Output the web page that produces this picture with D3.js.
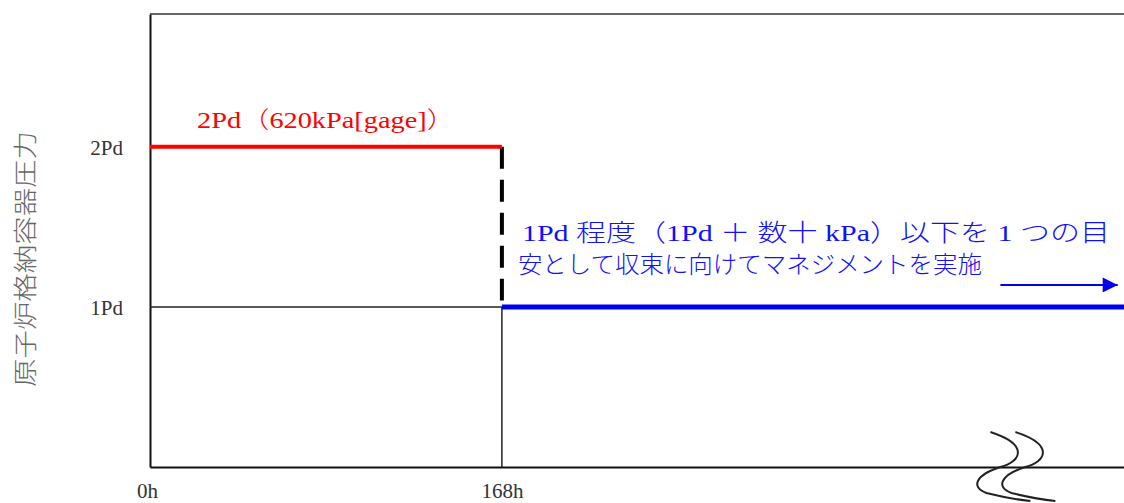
<!DOCTYPE html>
<html>
<head>
<meta charset="utf-8">
<script src="https://cdn.jsdelivr.net/npm/d3@7"></script>
<style>
  body { margin: 0; background: #fff; }
  svg { display: block; }
</style>
</head>
<body>
<div id="container"></div>
<script>
/* Données du graphe */
const xTickValues = [0, 168];
const xTickLabels = ["0h", "168h"];
const yTickValues = [1, 2];
const yTickLabels = ["1Pd", "2Pd"];

/* Phase 1 : 2Pd jusqu'à 168h, phase 2 : 1Pd ensuite */
const phase1 = [{t: 0, p: 2}, {t: 168, p: 2}];
const phase2 = [{t: 168, p: 1}, {t: 465, p: 1}];
const refLine = [{t: 0, p: 1}, {t: 168, p: 1}];
const dropLine = [{t: 168, p: 2}, {t: 168, p: 1.04}];
const stemLine = [{t: 168, p: 1}, {t: 168, p: 0}];

const yTitle = "原子炉格納容器圧力";
const redLabel = "2Pd（620kPa[gage]）";
const blueLines = ["1Pd 程度（1Pd ＋ 数十 kPa）以下を 1 つの目", "安として収束に向けてマネジメントを実施"];
const breakAt = 406;

const W = 1124, H = 503;
const serif = "'Liberation Serif', 'DejaVu Serif', 'Noto Sans CJK JP', serif";

const svg = d3.select("#container").append("svg")
  .attr("width", W)
  .attr("height", H);

const x = d3.scaleLinear().domain([0, 465]).range([150, 1124]);
const y = d3.scaleLinear().domain([0, 2.83]).range([467, 14]);

const line = d3.line().x(d => x(d.t)).y(d => y(d.p));

/* Cadre : haut gris, gauche et bas noirs */
svg.append("line")
  .attr("x1", x(0)).attr("x2", x(465))
  .attr("y1", y(2.83)).attr("y2", y(2.83))
  .style("stroke", "#666").style("stroke-width", 2);

svg.append("g")
  .attr("transform", "translate(" + x(0) + ",0)")
  .call(d3.axisLeft(y).tickValues(yTickValues).tickSize(0).tickFormat((d, i) => yTickLabels[i]))
  .call(g => g.select(".domain").style("stroke", "#111").style("stroke-width", 2))
  .call(g => g.selectAll("text")
    .attr("x", -27)
    .attr("dy", "0.35em")
    .style("font-family", serif)
    .style("font-size", "21px")
    .style("fill", "#333"));

svg.append("g")
  .attr("transform", "translate(0," + y(0) + ")")
  .call(d3.axisBottom(x).tickValues(xTickValues).tickSize(0).tickFormat((d, i) => xTickLabels[i]))
  .call(g => g.select(".domain").style("stroke", "#111").style("stroke-width", 2))
  .call(g => g.selectAll("text")
    .attr("y", 16)
    .attr("dx", (d, i) => i === 0 ? -3 : 0)
    .style("font-family", serif)
    .style("font-size", "21px")
    .style("fill", "#333"));

/* Titre de l'axe vertical */
svg.append("text")
  .attr("transform", "translate(34,259) rotate(-90)")
  .attr("text-anchor", "middle")
  .attr("textLength", 256)
  .attr("lengthAdjust", "spacingAndGlyphs")
  .style("font-family", "'Noto Sans CJK JP', sans-serif")
  .style("font-size", "24px")
  .style("font-weight", "300")
  .style("fill", "#666")
  .text(yTitle);

/* Lignes */
svg.append("path").datum(refLine).attr("d", line)
  .style("fill", "none").style("stroke", "#222").style("stroke-width", 1.5);
svg.append("path").datum(stemLine).attr("d", line)
  .style("fill", "none").style("stroke", "#222").style("stroke-width", 1.5);
svg.append("path").datum(dropLine).attr("d", line)
  .style("fill", "none").style("stroke", "#000").style("stroke-width", 4)
  .style("stroke-dasharray", "22,11");
svg.append("path").datum(phase1).attr("d", line)
  .style("fill", "none").style("stroke", "#f00").style("stroke-width", 4);
svg.append("path").datum(phase2).attr("d", line)
  .style("fill", "none").style("stroke", "#0000ee").style("stroke-width", 5);

/* Etiquettes */
svg.append("text")
  .attr("x", x(0) + 47)
  .attr("y", y(2) - 19)
  .attr("textLength", 258)
  .attr("lengthAdjust", "spacingAndGlyphs")
  .style("font-family", serif)
  .style("font-size", "23px")
  .style("font-weight", "300")
  .style("fill", "#f00")
  .text(redLabel);

const blueText = svg.append("text")
  .style("font-family", serif)
  .style("font-size", "24px")
  .style("font-weight", "300")
  .style("fill", "#1010ff");
blueText.append("tspan")
  .attr("x", x(168) + 20).attr("y", y(1) - 66)
  .attr("textLength", 588).attr("lengthAdjust", "spacingAndGlyphs")
  .text(blueLines[0]);
blueText.append("tspan")
  .attr("x", x(168) + 16).attr("y", y(1) - 34)
  .attr("textLength", 464).attr("lengthAdjust", "spacingAndGlyphs")
  .text(blueLines[1]);

/* Flèche */
svg.append("defs").append("marker")
  .attr("id", "arrow")
  .attr("viewBox", "0 0 10 10")
  .attr("refX", 10).attr("refY", 5)
  .attr("markerWidth", 16).attr("markerHeight", 15)
  .attr("markerUnits", "userSpaceOnUse")
  .attr("orient", "auto")
  .append("path").attr("d", "M0,0 L10,5 L0,10 Z").style("fill", "#0000ee");

svg.append("line")
  .attr("x1", x(406)).attr("x2", x(462))
  .attr("y1", y(1) - 22).attr("y2", y(1) - 22)
  .style("stroke", "#0000ee").style("stroke-width", 2)
  .attr("marker-end", "url(#arrow)");

/* Symbole de coupure de l'axe */
const bx = x(breakAt), by = y(0);
[0, 25].forEach(function(off) {
  const ox = bx + off;
  const p = d3.path();
  p.moveTo(ox - 10, by - 35);
  p.bezierCurveTo(ox + 30, by - 22, ox + 20, by - 5, ox, by);
  p.bezierCurveTo(ox - 25, by + 8, ox - 30, by + 20, ox - 14, by + 26);
  p.quadraticCurveTo(ox + 10, by + 32, ox + 30, by + 34);
  svg.append("path")
    .attr("d", p.toString())
    .style("fill", "none")
    .style("stroke", "#222")
    .style("stroke-width", 2);
});
</script>
</body>
</html>
